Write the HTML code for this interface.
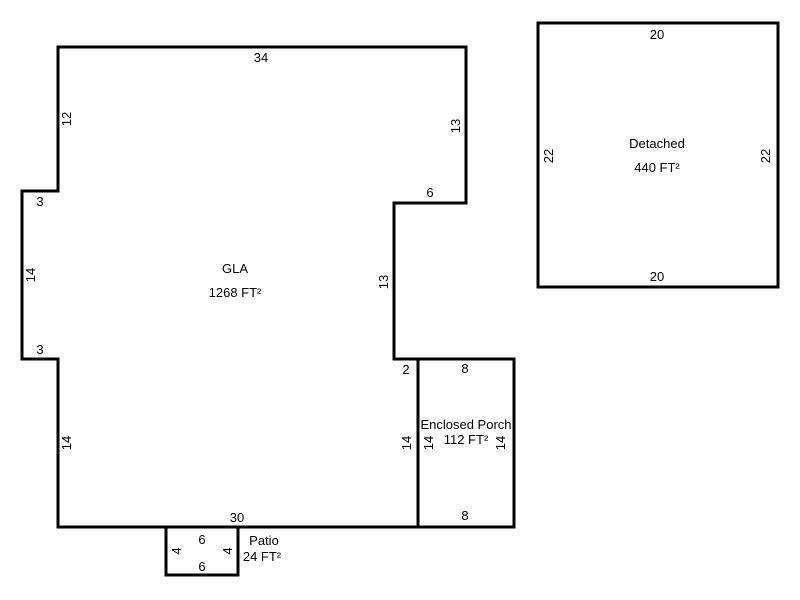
<!DOCTYPE html>
<html><head><meta charset="utf-8"><style>
html,body{margin:0;padding:0;background:#fff;width:800px;height:600px;overflow:hidden}
text{font-family:"Liberation Sans",Arial,sans-serif;font-size:13px;fill:#000}
</style></head><body>
<svg width="800" height="600" xmlns="http://www.w3.org/2000/svg">
<g fill="none" stroke="#000" stroke-width="3" stroke-linejoin="miter">
<polygon points="58,47 466,47 466,203 394,203 394,359 418,359 418,527 58,527 58,359 22,359 22,191 58,191"/>
<rect x="418" y="359" width="96" height="168"/>
<rect x="166" y="527" width="72" height="48"/>
<rect x="538" y="23" width="240" height="264"/>
</g>
<g text-anchor="middle">
<text x="261" y="62">34</text>
<text x="430" y="197">6</text>
<text x="40" y="206">3</text>
<text x="40" y="354">3</text>
<text x="406" y="374">2</text>
<text x="465" y="373">8</text>
<text x="465" y="520">8</text>
<text x="237" y="522">30</text>
<text x="202" y="544">6</text>
<text x="202" y="571">6</text>
<text x="264" y="545">Patio</text>
<text x="262" y="561">24 FT²</text>
<text x="235" y="273">GLA</text>
<text x="235" y="297">1268 FT²</text>
<text x="466" y="429">Enclosed Porch</text>
<text x="466" y="444">112 FT²</text>
<text x="657" y="39">20</text>
<text x="657" y="281">20</text>
<text x="657" y="148">Detached</text>
<text x="657" y="172">440 FT²</text>
</g>
<g text-anchor="middle">
<text transform="translate(71,119) rotate(-90)">12</text>
<text transform="translate(460,126) rotate(-90)">13</text>
<text transform="translate(35,275) rotate(-90)">14</text>
<text transform="translate(388,282) rotate(-90)">13</text>
<text transform="translate(71,443) rotate(-90)">14</text>
<text transform="translate(411,443) rotate(-90)">14</text>
<text transform="translate(433,443) rotate(-90)">14</text>
<text transform="translate(505,443) rotate(-90)">14</text>
<text transform="translate(181,551) rotate(-90)">4</text>
<text transform="translate(232,551) rotate(-90)">4</text>
<text transform="translate(553,156) rotate(-90)">22</text>
<text transform="translate(770,156) rotate(-90)">22</text>
</g>
</svg>
</body></html>
